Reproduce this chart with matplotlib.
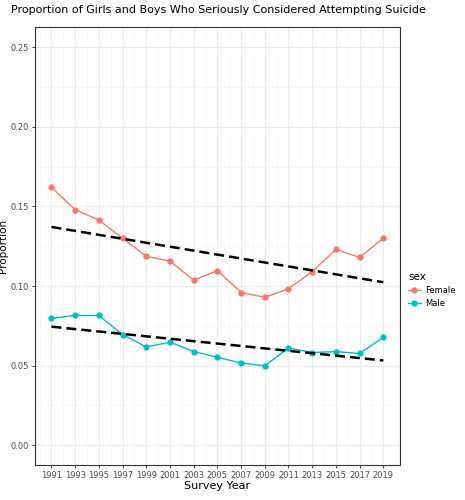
import matplotlib
matplotlib.use("Agg")
import matplotlib.pyplot as plt
import numpy as np

years = [1991,1993,1995,1997,1999,2001,2003,2005,2007,2009,2011,2013,2015,2017,2019]
female = [0.162,0.148,0.1415,0.130,0.1187,0.1157,0.1037,0.1097,0.0959,0.0929,0.0983,0.109,0.123,0.118,0.130]
male = [0.0797,0.0815,0.0815,0.0695,0.0617,0.0647,0.0588,0.0552,0.0516,0.0498,0.0611,0.0582,0.0588,0.0576,0.0677]
yticks = [0.00,0.05,0.10,0.15,0.20,0.25]

fig = plt.figure(figsize=(4.65,5), dpi=100)
ax = fig.add_axes([0.075, 0.07, 0.785, 0.875])
ax.set_facecolor("white")
x = np.array(years)
for vals, col, lab in [(female,"#F8766D","Female"),(male,"#00BFC4","Male")]:
    ax.plot(x, vals, color=col, lw=1, marker="o", ms=3.5, label=lab)
for vals in [female, male]:
    b, a = np.polyfit(x, vals, 1)
    ax.plot(x, a + b*x, color="black", ls=(0,(4,2)), lw=1.8)
ax.set_xlim(1989.6, 2020.4)
ax.set_ylim(-0.0125, 0.2625)
ax.set_xticks(years)
ax.set_xticks(np.arange(1990, 2020, 2), minor=True)
ax.set_yticks(yticks)
ax.set_yticks(np.arange(0.025, 0.25, 0.05), minor=True)
ax.set_yticklabels([f"{v:.2f}" for v in yticks])
ax.tick_params(labelsize=6, colors="#4D4D4D", length=2.5, pad=1.5, which="major")
ax.tick_params(which="minor", length=0)
ax.grid(True, which="major", color="#EBEBEB", lw=0.8)
ax.grid(True, which="minor", color="#F5F5F5", lw=0.5)
ax.set_axisbelow(True)
for s in ax.spines.values():
    s.set_color("#333333"); s.set_linewidth(0.8)
ax.set_xlabel("Survey Year", fontsize=8, labelpad=1)
ax.set_ylabel("Proportion", fontsize=7.5, labelpad=2)
fig.suptitle("Proportion of Girls and Boys Who Seriously Considered Attempting Suicide", fontsize=8, x=0.47, y=0.99)
h, l = ax.get_legend_handles_labels()
fig.legend(h[:2], l[:2], title="sex", loc="center left", bbox_to_anchor=(0.865, 0.42),
           frameon=False, fontsize=6, title_fontsize=7.5, alignment="left",
           handlelength=1.5, handletextpad=0.5, borderpad=0.2)
fig.savefig("out.png", dpi=100)
